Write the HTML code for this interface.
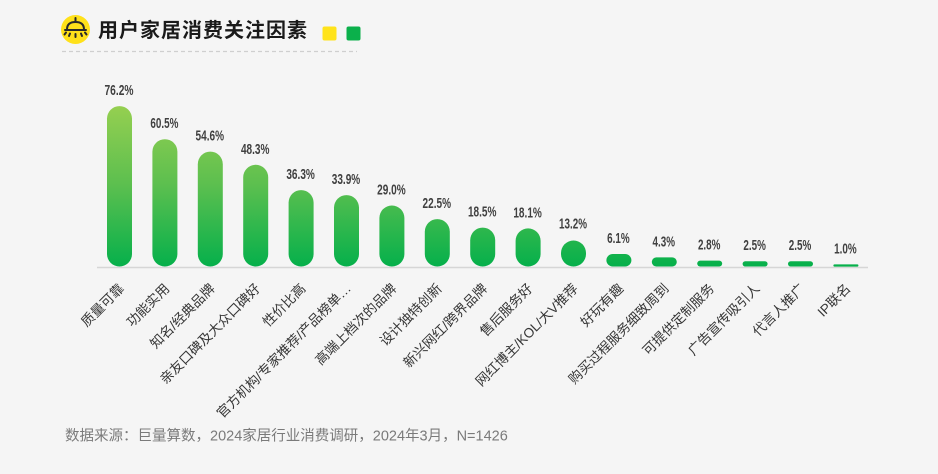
<!DOCTYPE html>
<html>
<head>
<meta charset="utf-8">
<style>
  html,body{margin:0;padding:0;}
  body{width:938px;height:474px;background:#f5f5f5;overflow:hidden;}
  svg{display:block;}
  .cat{font-family:"Liberation Sans","Noto Sans CJK SC",sans-serif;font-size:13.5px;fill:#363636;}
  .val{font-family:"Liberation Sans Narrow","Liberation Sans",sans-serif;font-weight:bold;font-size:15px;fill:#404040;}
</style>
</head>
<body>
<svg width="938" height="474" viewBox="0 0 938 474" xmlns="http://www.w3.org/2000/svg">
  <defs>
    <linearGradient id="g" gradientUnits="userSpaceOnUse" x1="0" y1="106" x2="0" y2="266">
      <stop offset="0" stop-color="#95cf50"/>
      <stop offset="0.5" stop-color="#5bbf4f"/>
      <stop offset="1" stop-color="#06b04b"/>
    </linearGradient>
  </defs>
  <rect x="0" y="0" width="938" height="474" fill="#f5f5f5"/>

  <!-- Title -->
  <circle cx="75.5" cy="29.5" r="14.5" fill="#ffe11a"/>
  <g stroke="#2a2a2a" stroke-width="2" fill="none" stroke-linecap="round">
    <line x1="75.5" y1="18" x2="75.5" y2="21"/>
    <path d="M67,29.5 Q67,22 75.5,22 Q84,22 84,29.5"/>
    <line x1="65" y1="30" x2="86" y2="30"/>
    <line x1="75.5" y1="34" x2="75.5" y2="37"/>
    <line x1="70" y1="33.5" x2="69" y2="36"/>
    <line x1="81" y1="33.5" x2="82" y2="36"/>
    <line x1="66" y1="32.5" x2="64.5" y2="34.5"/>
    <line x1="85" y1="32.5" x2="86.5" y2="34.5"/>
  </g>
  <text x="98" y="37" font-family="'Liberation Sans','Noto Sans CJK SC',sans-serif" font-weight="bold" font-size="20" letter-spacing="1" fill="#1a1a1a">用户家居消费关注因素</text>
  <rect x="322.5" y="26.5" width="14" height="14" rx="2" fill="#ffe31b"/>
  <rect x="346.5" y="26.5" width="14" height="14" rx="2" fill="#0bb04b"/>
  <line x1="62" y1="51.5" x2="357" y2="51.5" stroke="#cfcfcf" stroke-width="1.2" stroke-dasharray="4,3"/>

  <!-- baseline -->
  <line x1="97" y1="267.5" x2="868" y2="267.5" stroke="#d6d6d6" stroke-width="1.6"/>

  <!-- bars -->
  <g fill="url(#g)">
    <rect x="107" y="106.1" width="25" height="160.4" rx="12.5"/>
    <rect x="152.4" y="139.2" width="25" height="127.3" rx="12.5"/>
    <rect x="197.8" y="151.6" width="25" height="114.9" rx="12.5"/>
    <rect x="243.2" y="164.8" width="25" height="101.7" rx="12.5"/>
    <rect x="288.6" y="190.1" width="25" height="76.4" rx="12.5"/>
    <rect x="334" y="195.1" width="25" height="71.4" rx="12.5"/>
    <rect x="379.4" y="205.5" width="25" height="61" rx="12.5"/>
    <rect x="424.8" y="219.1" width="25" height="47.4" rx="12.5"/>
    <rect x="470.2" y="227.6" width="25" height="38.9" rx="12.5"/>
    <rect x="515.6" y="228.4" width="25" height="38.1" rx="12.5"/>
    <rect x="561" y="240.5" width="25" height="26" rx="12.5"/>
    <rect x="606.4" y="254" width="25" height="12.5" rx="6.25"/>
    <rect x="651.8" y="257.4" width="25" height="9.1" rx="4.5"/>
    <rect x="697.2" y="260.6" width="25" height="5.9" rx="2.95"/>
    <rect x="742.6" y="261.2" width="25" height="5.3" rx="2.6"/>
    <rect x="788" y="261.2" width="25" height="5.3" rx="2.6"/>
    <rect x="833.4" y="264.4" width="25" height="2.2" rx="1"/>
  </g>

  <!-- value labels -->
  <g class="val" text-anchor="middle">
    <text x="119" y="95" textLength="29" lengthAdjust="spacingAndGlyphs">76.2%</text>
    <text x="164.4" y="128.2" textLength="28" lengthAdjust="spacingAndGlyphs">60.5%</text>
    <text x="209.8" y="140.6" textLength="28.5" lengthAdjust="spacingAndGlyphs">54.6%</text>
    <text x="255.2" y="153.8" textLength="28.5" lengthAdjust="spacingAndGlyphs">48.3%</text>
    <text x="300.6" y="179.1" textLength="28.5" lengthAdjust="spacingAndGlyphs">36.3%</text>
    <text x="346" y="184.1" textLength="28.5" lengthAdjust="spacingAndGlyphs">33.9%</text>
    <text x="391.4" y="194.5" textLength="28.5" lengthAdjust="spacingAndGlyphs">29.0%</text>
    <text x="436.8" y="208.1" textLength="28.5" lengthAdjust="spacingAndGlyphs">22.5%</text>
    <text x="482.2" y="216.6" textLength="28.5" lengthAdjust="spacingAndGlyphs">18.5%</text>
    <text x="527.6" y="217.4" textLength="28.5" lengthAdjust="spacingAndGlyphs">18.1%</text>
    <text x="573" y="228.5" textLength="28" lengthAdjust="spacingAndGlyphs">13.2%</text>
    <text x="618.4" y="243" textLength="22.5" lengthAdjust="spacingAndGlyphs">6.1%</text>
    <text x="663.8" y="246.4" textLength="22.5" lengthAdjust="spacingAndGlyphs">4.3%</text>
    <text x="709.2" y="249.6" textLength="22.5" lengthAdjust="spacingAndGlyphs">2.8%</text>
    <text x="754.6" y="250.2" textLength="22.5" lengthAdjust="spacingAndGlyphs">2.5%</text>
    <text x="800" y="250.2" textLength="22.5" lengthAdjust="spacingAndGlyphs">2.5%</text>
    <text x="845.4" y="253.4" textLength="22.5" lengthAdjust="spacingAndGlyphs">1.0%</text>
  </g>

  <!-- category labels -->
  <g class="cat" text-anchor="end">
    <text transform="translate(121.5,286) rotate(-45)" dy="0.35em">质量可靠</text>
    <text transform="translate(166.9,286) rotate(-45)" dy="0.35em">功能实用</text>
    <text transform="translate(212.3,286) rotate(-45)" dy="0.35em">知名/经典品牌</text>
    <text transform="translate(257.7,286) rotate(-45)" dy="0.35em">亲友口碑及大众口碑好</text>
    <text transform="translate(303.1,286) rotate(-45)" dy="0.35em">性价比高</text>
    <text transform="translate(348.5,286) rotate(-45)" dy="0.35em">官方机构/专家推荐/产品榜单…</text>
    <text transform="translate(393.9,286) rotate(-45)" dy="0.35em">高端上档次的品牌</text>
    <text transform="translate(439.3,286) rotate(-45)" dy="0.35em">设计独特创新</text>
    <text transform="translate(484.7,286) rotate(-45)" dy="0.35em">新兴网红/跨界品牌</text>
    <text transform="translate(530.1,286) rotate(-45)" dy="0.35em">售后服务好</text>
    <text transform="translate(575.5,286) rotate(-45)" dy="0.35em">网红博主/KOL/大V推荐</text>
    <text transform="translate(620.9,286) rotate(-45)" dy="0.35em">好玩有趣</text>
    <text transform="translate(666.3,286) rotate(-45)" dy="0.35em">购买过程服务细致周到</text>
    <text transform="translate(711.7,286) rotate(-45)" dy="0.35em">可提供定制服务</text>
    <text transform="translate(757.1,286) rotate(-45)" dy="0.35em">广告宣传吸引人</text>
    <text transform="translate(802.5,286) rotate(-45)" dy="0.35em">代言人推广</text>
    <text transform="translate(847.9,286) rotate(-45)" dy="0.35em">IP联名</text>
  </g>

  <!-- footnote -->
  <text x="65" y="440.5" font-family="'Liberation Sans','Noto Sans CJK SC',sans-serif" font-size="14.5" fill="#7a7a7a">数据来源：巨量算数，2024家居行业消费调研，2024年3月，N=1426</text>
</svg>
</body>
</html>
